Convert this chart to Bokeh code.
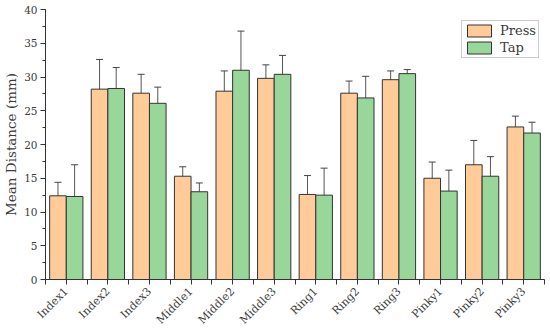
from math import pi
from bokeh.plotting import figure
from bokeh.models import (ColumnDataSource, Whisker, TeeHead, FixedTicker,
                          SingleIntervalTicker, Range1d, Legend, LegendItem)
from bokeh.transform import dodge
from bokeh.embed import file_html
from bokeh.resources import INLINE

categories = ["Index1", "Index2", "Index3", "Middle1", "Middle2", "Middle3",
              "Ring1", "Ring2", "Ring3", "Pinky1", "Pinky2", "Pinky3"]
press_mean = [12.4, 28.2, 27.6, 15.3, 27.9, 29.8, 12.6, 27.6, 29.6, 15.0, 17.0, 22.6]
press_sd = [2.0, 4.4, 2.8, 1.4, 3.0, 2.0, 2.8, 1.8, 1.3, 2.4, 3.6, 1.6]
tap_mean = [12.3, 28.3, 26.1, 13.0, 31.0, 30.4, 12.5, 26.9, 30.5, 13.1, 15.3, 21.7]
tap_sd = [4.7, 3.1, 2.4, 1.3, 5.8, 2.8, 4.0, 3.2, 0.6, 3.1, 2.9, 1.6]

idx = list(range(1, len(categories) + 1))
src = ColumnDataSource(dict(
    x=idx, cat=categories,
    pm=press_mean, pl=[m - s for m, s in zip(press_mean, press_sd)],
    pu=[m + s for m, s in zip(press_mean, press_sd)],
    tm=tap_mean, tl=[m - s for m, s in zip(tap_mean, tap_sd)],
    tu=[m + s for m, s in zip(tap_mean, tap_sd)],
))

SERIF = "DejaVu Serif"
TXT = "#3a3a3a"

p = figure(width=550, height=334, output_backend="svg", toolbar_location=None,
           x_range=Range1d(0.5, len(categories) + 0.5), y_range=Range1d(0, 40),
           min_border_left=44, min_border_right=6, min_border_top=9,
           min_border_bottom=55)
p.outline_line_color = None
p.grid.visible = False

bw = 0.4
r_press = p.vbar(x=dodge("x", -0.2), top="pm", width=bw, source=src,
                 fill_color="#FFCC99", line_color="#333333", line_width=1)
r_tap = p.vbar(x=dodge("x", 0.2), top="tm", width=bw, source=src,
               fill_color="#99D699", line_color="#333333", line_width=1)

for base, lo, hi in ((dodge("x", -0.2), "pl", "pu"), (dodge("x", 0.2), "tl", "tu")):
    w = Whisker(base=base, lower=lo, upper=hi, source=src,
                line_color="#555555", line_width=1,
                upper_head=TeeHead(size=7, line_color="#444444", line_width=1),
                lower_head=TeeHead(size=7, line_color="#444444", line_width=1))
    p.add_layout(w)

# x axis
xa = p.xaxis[0]
xa.ticker = FixedTicker(ticks=idx, minor_ticks=[i + 0.5 for i in range(0, len(categories) + 1)])
xa.major_label_overrides = {i: c for i, c in zip(idx, categories)}
xa.major_label_orientation = pi / 4
xa.major_label_text_font = SERIF
xa.major_label_text_font_size = "11px"
xa.major_label_text_color = TXT
xa.major_tick_in = 0
xa.major_tick_out = 5
xa.minor_tick_in = 0
xa.minor_tick_out = 5
xa.major_label_standoff = 5
xa.axis_line_color = "#333333"
xa.major_tick_line_color = "#333333"
xa.minor_tick_line_color = "#333333"

# y axis
ya = p.yaxis[0]
ya.ticker = SingleIntervalTicker(interval=5, num_minor_ticks=2)
ya.major_label_text_font = SERIF
ya.major_label_text_font_size = "10.5px"
ya.major_label_text_color = TXT
ya.major_tick_in = 0
ya.major_tick_out = 5
ya.minor_tick_in = 0
ya.minor_tick_out = 3
ya.major_label_standoff = 3
ya.axis_label = "Mean Distance (mm)"
ya.axis_label_text_font = SERIF
ya.axis_label_text_font_size = "13.5px"
ya.axis_label_text_font_style = "normal"
ya.axis_label_text_color = TXT
ya.axis_label_standoff = 2
ya.axis_line_color = "#333333"
ya.major_tick_line_color = "#333333"
ya.minor_tick_line_color = "#333333"

legend = Legend(items=[LegendItem(label="Press", renderers=[r_press]),
                       LegendItem(label="Tap", renderers=[r_tap])],
                location=(416, 221), padding=2, spacing=2, margin=0,
                glyph_width=30, glyph_height=15, label_height=15,
                label_standoff=6, label_text_font=SERIF,
                label_text_font_size="13px", label_text_color=TXT,
                border_line_color="#999999", border_line_width=1,
                background_fill_alpha=1)
p.add_layout(legend)

open("out.html", "w").write(file_html(p, INLINE))
